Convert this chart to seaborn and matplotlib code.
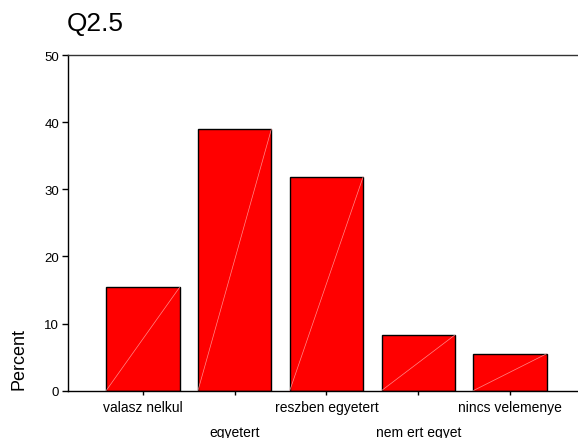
import matplotlib
matplotlib.use("Agg")
import matplotlib.pyplot as plt
import seaborn as sns
import pandas as pd

categories = ["valasz nelkul", "egyetert", "reszben egyetert", "nem ert egyet", "nincs velemenye"]
percent = [15.4, 39.0, 31.9, 8.3, 5.5]
yticks = [0, 10, 20, 30, 40, 50]
title = "Q2.5"
ylabel = "Percent"

sns.set_style("white")
plt.rcParams["font.family"] = ["Liberation Sans", "DejaVu Sans"]
plt.rcParams["text.color"] = "black"
plt.rcParams["xtick.color"] = "black"
plt.rcParams["ytick.color"] = "black"
plt.rcParams["xtick.labelcolor"] = "black"
plt.rcParams["ytick.labelcolor"] = "black"

df = pd.DataFrame({"cat": categories, "pct": percent})

fig = plt.figure(figsize=(5.78, 4.39), dpi=100)
ax = fig.add_axes([0.117, 0.108, 0.883, 0.764])

sns.barplot(data=df, x="cat", y="pct", color="#ff0000", saturation=1,
            edgecolor="black", linewidth=1.0, width=0.8, ax=ax, zorder=2)

# faint diagonal artefact lines inside bars
for p in ax.patches:
    x0 = p.get_x()
    ax.plot([x0, x0 + p.get_width()], [0, p.get_height()], color="#ff9a9a",
            lw=0.5, alpha=0.9, zorder=3)

ax.set_xlim(-0.82, 4.74)
ax.set_ylim(0, 50)
ax.set_yticks(yticks)
ax.set_yticklabels([str(t) for t in yticks], fontsize=9.5, color="black")
ax.set_xticks(range(len(categories)))
ax.set_xticklabels([])
ax.set_xlabel("")
ax.set_ylabel("")

for i, c in enumerate(categories):
    off = 7 if i % 2 == 0 else 25
    ax.annotate(c, xy=(i, 0), xycoords=("data", "axes fraction"),
                xytext=(0, -off), textcoords="offset points",
                ha="center", va="top", fontsize=10, color="black")

ax.tick_params(axis="y", direction="out", length=4, width=1, color="black", pad=2, left=True)
ax.tick_params(axis="x", direction="out", length=3, width=1, color="black", bottom=True)

for s in ["left", "bottom", "top"]:
    ax.spines[s].set_visible(True)
    ax.spines[s].set_color("black")
    ax.spines[s].set_linewidth(1.0)
ax.spines["top"].set_color("#333333")
ax.spines["right"].set_visible(False)

fig.text(67 / 578, 1 - 24 / 439, title, fontsize=18.9, ha="left", va="center", color="black")
fig.text(19 / 578, (439 - 390) / 439, ylabel, rotation=90, fontsize=13,
         ha="center", va="bottom", color="black")

fig.savefig("out.png", dpi=100)
